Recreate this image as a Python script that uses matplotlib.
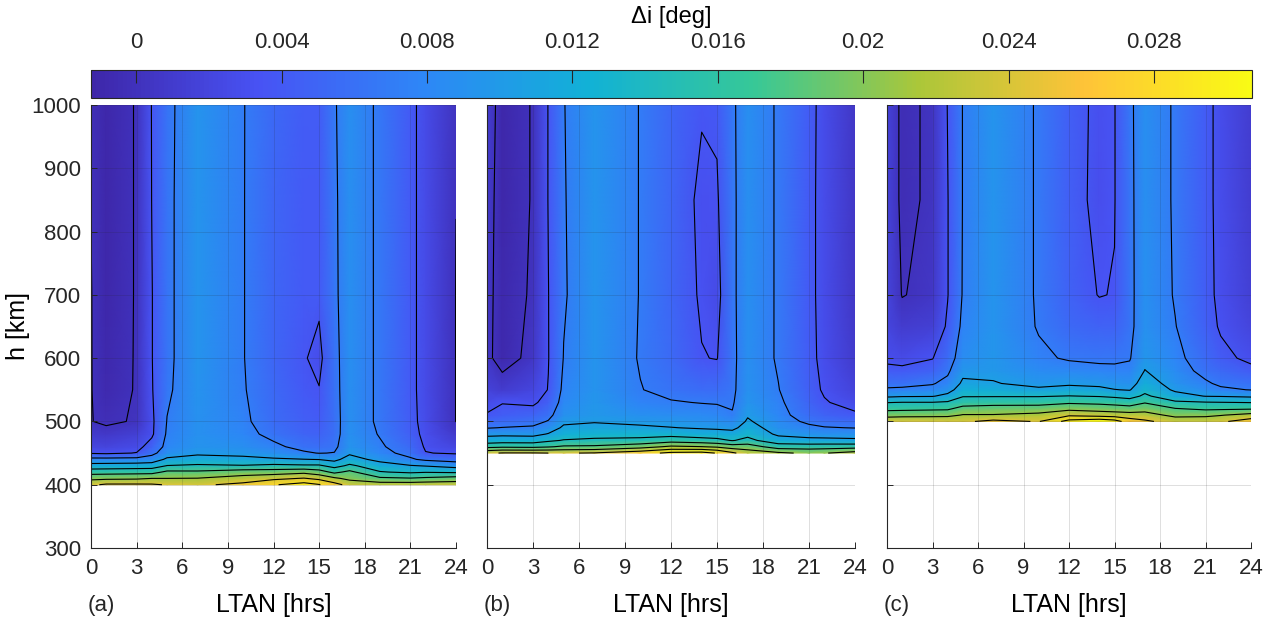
import numpy as np
import matplotlib
matplotlib.use("Agg")
import matplotlib.pyplot as plt
from matplotlib.colors import LinearSegmentedColormap, Normalize

plt.rcParams.update({
    "font.family": ["Liberation Sans", "DejaVu Sans"],
    "font.size": 16,
    "axes.edgecolor": "#262626",
    "xtick.color": "#262626",
    "ytick.color": "#262626",
    "text.color": "#262626",
})

# ---- data -----------------------------------------------------------------
ltan = [0, 1, 3, 4, 5, 7, 10, 12, 14, 15, 16, 17, 19, 21, 22, 24]

# (a) altitudes [km]; di_a has one row per LTAN value, low -> high altitude
h_a = [400, 410, 420, 430, 440, 450, 460, 480, 500, 550, 600, 700, 850, 1000]
di_a = [
    [0.0239, 0.0201, 0.0160, 0.0118, 0.0081, 0.0032, 0.0021, 0.0009, 0.00006, 0.00006, 0.00006, 0.00006, -0.00002, -0.00035],
    [0.0250, 0.0203, 0.0161, 0.0119, 0.0081, 0.0030, 0.0019, 0.0007, -0.00035, -0.0008, -0.0009, -0.00105, -0.00105, -0.00105],
    [0.0250, 0.0205, 0.0163, 0.0121, 0.0082, 0.0036, 0.0026, 0.0014, 0.00018, 0.00012, 0.00012, 0.00012, 0.00012, 0.00012],
    [0.0249, 0.0210, 0.0163, 0.0123, 0.0086, 0.0061, 0.0047, 0.0030, 0.0029, 0.0033, 0.0034, 0.0034, 0.00355, 0.0036],
    [0.0243, 0.0210, 0.0182, 0.0141, 0.0111, 0.0088, 0.0079, 0.0074, 0.0071, 0.0065, 0.0063, 0.0063, 0.0063, 0.0062],
    [0.0239, 0.0211, 0.0181, 0.0145, 0.0119, 0.0099, 0.0093, 0.0091, 0.0091, 0.0092, 0.0093, 0.0093, 0.0093, 0.0093],
    [0.0254, 0.0224, 0.0193, 0.0142, 0.0114, 0.0096, 0.0088, 0.0079, 0.0075, 0.0072, 0.0071, 0.0071, 0.0071, 0.0071],
    [0.0277, 0.0237, 0.0193, 0.0148, 0.0109, 0.0089, 0.0076, 0.0062, 0.0056, 0.0053, 0.0051, 0.0051, 0.0051, 0.0053],
    [0.0295, 0.0247, 0.0201, 0.0145, 0.0106, 0.0074, 0.0061, 0.0049, 0.0044, 0.0039, 0.0037, 0.0040, 0.0041, 0.0042],
    [0.0282, 0.0236, 0.0190, 0.0145, 0.0104, 0.0069, 0.0058, 0.0047, 0.0042, 0.0036, 0.0028, 0.0040, 0.0041, 0.0042],
    [0.0258, 0.0216, 0.0167, 0.0128, 0.0096, 0.0071, 0.0063, 0.0058, 0.0058, 0.0060, 0.0061, 0.0064, 0.0065, 0.0067],
    [0.0233, 0.0201, 0.0183, 0.0146, 0.0119, 0.0100, 0.0093, 0.0089, 0.0088, 0.0088, 0.0088, 0.0088, 0.0088, 0.0088],
    [0.0228, 0.0181, 0.0142, 0.0121, 0.0095, 0.0079, 0.0074, 0.0068, 0.0065, 0.0065, 0.0065, 0.0065, 0.0065, 0.0065],
    [0.0229, 0.0177, 0.0135, 0.0107, 0.0074, 0.0061, 0.0053, 0.0044, 0.0042, 0.0041, 0.0041, 0.0041, 0.0041, 0.0041],
    [0.0231, 0.0181, 0.0138, 0.0103, 0.0064, 0.0036, 0.0032, 0.0029, 0.0027, 0.0026, 0.0026, 0.0026, 0.0026, 0.0026],
    [0.0231, 0.0189, 0.0135, 0.0092, 0.0056, 0.0032, 0.0020, 0.0008, -0.00004, -0.00004, -0.00004, -0.00004, 0.00001, 0.00023],
]

# (b)
h_b = [450, 460, 470, 480, 490, 500, 510, 530, 550, 600, 700, 850, 1000]
di_b = [
    [0.0239, 0.0165, 0.0120, 0.0097, 0.0068, 0.0053, 0.0037, 0.0026, 0.0018, 0.0005, 0.0006, 0.0009, 0.0013],
    [0.0247, 0.0169, 0.0123, 0.0098, 0.0071, 0.0054, 0.0043, 0.0034, 0.0011, -0.0009, -0.0009, -0.00105, -0.00105],
    [0.0247, 0.0167, 0.0123, 0.0096, 0.0074, 0.0060, 0.0049, 0.0030, 0.0020, 0.0006, 0.00023, 0.00012, 0.00012],
    [0.0245, 0.0172, 0.0134, 0.0107, 0.0088, 0.0072, 0.0061, 0.0046, 0.0036, 0.0034, 0.00344, 0.0036, 0.0036],
    [0.0243, 0.0180, 0.0142, 0.0123, 0.0110, 0.0099, 0.0091, 0.0082, 0.0077, 0.0071, 0.0067, 0.0068, 0.0069],
    [0.0247, 0.0181, 0.0146, 0.0128, 0.0113, 0.0103, 0.0098, 0.0095, 0.0093, 0.0093, 0.0093, 0.0093, 0.0093],
    [0.0266, 0.0196, 0.0149, 0.0128, 0.0110, 0.0098, 0.0089, 0.0077, 0.0071, 0.0068, 0.0069, 0.0069, 0.0069],
    [0.0288, 0.0216, 0.0160, 0.0128, 0.0106, 0.0095, 0.0085, 0.0072, 0.0062, 0.0054, 0.0051, 0.0050, 0.0051],
    [0.0292, 0.0211, 0.0154, 0.0121, 0.0102, 0.0091, 0.0083, 0.0069, 0.0056, 0.0036, 0.0032, 0.0030, 0.0037],
    [0.0278, 0.0205, 0.0149, 0.0120, 0.0100, 0.0088, 0.0081, 0.0068, 0.0056, 0.0034, 0.0026, 0.0032, 0.0039],
    [0.0251, 0.0193, 0.0138, 0.0117, 0.0097, 0.0083, 0.0072, 0.0067, 0.0064, 0.0063, 0.0064, 0.0064, 0.0065],
    [0.0228, 0.0193, 0.0149, 0.0131, 0.0119, 0.0109, 0.0102, 0.0093, 0.0090, 0.0088, 0.0088, 0.0088, 0.0088],
    [0.0216, 0.0158, 0.0120, 0.0099, 0.0090, 0.0084, 0.0079, 0.0075, 0.0071, 0.0067, 0.0067, 0.0067, 0.0067],
    [0.0204, 0.0158, 0.0114, 0.0093, 0.0077, 0.0064, 0.0056, 0.0049, 0.0044, 0.0042, 0.0041, 0.0041, 0.0042],
    [0.0208, 0.0159, 0.0114, 0.0091, 0.0072, 0.0058, 0.0048, 0.0037, 0.0032, 0.0028, 0.0027, 0.0027, 0.0027],
    [0.0224, 0.0161, 0.0111, 0.0091, 0.0069, 0.0054, 0.0039, 0.0026, 0.0018, 0.0009, 0.0006, 0.0006, 0.0006],
]

# (c)
h_c = [500, 510, 520, 530, 540, 550, 560, 580, 600, 650, 700, 850, 1000]
di_c = [
    [0.0239, 0.0196, 0.0166, 0.0139, 0.0099, 0.0074, 0.0061, 0.0042, 0.0029, 0.0021, 0.0019, 0.0018, 0.0018],
    [0.0242, 0.0198, 0.0167, 0.0141, 0.0102, 0.0076, 0.0061, 0.0041, 0.0026, 0.0011, -0.0001, -0.0005, -0.0005],
    [0.0240, 0.0200, 0.0169, 0.0141, 0.0103, 0.0079, 0.0068, 0.0047, 0.0034, 0.0014, 0.0006, 0.00035, 0.00035],
    [0.0240, 0.0201, 0.0170, 0.0144, 0.0114, 0.0092, 0.0078, 0.0065, 0.0055, 0.0039, 0.0034, 0.0034, 0.0036],
    [0.0239, 0.0212, 0.0187, 0.0158, 0.0138, 0.0123, 0.0111, 0.0096, 0.0086, 0.0077, 0.0072, 0.0071, 0.0071],
    [0.0254, 0.0212, 0.0190, 0.0162, 0.0138, 0.0120, 0.0107, 0.0098, 0.0095, 0.0093, 0.0093, 0.0093, 0.0093],
    [0.0243, 0.0218, 0.0193, 0.0161, 0.0138, 0.0111, 0.0096, 0.0084, 0.0075, 0.0068, 0.0067, 0.0067, 0.0067],
    [0.0293, 0.0239, 0.0201, 0.0170, 0.0141, 0.0117, 0.0100, 0.0082, 0.0067, 0.0053, 0.0047, 0.0044, 0.0044],
    [0.0306, 0.0231, 0.0196, 0.0167, 0.0138, 0.0113, 0.0097, 0.0078, 0.0064, 0.0047, 0.0034, 0.0029, 0.0030],
    [0.0295, 0.0228, 0.0193, 0.0163, 0.0134, 0.0106, 0.0093, 0.0077, 0.0064, 0.0047, 0.0036, 0.0034, 0.0034],
    [0.0263, 0.0225, 0.0189, 0.0158, 0.0128, 0.0103, 0.0091, 0.0077, 0.0068, 0.0062, 0.0062, 0.0063, 0.0064],
    [0.0251, 0.0224, 0.0196, 0.0173, 0.0146, 0.0131, 0.0121, 0.0106, 0.0096, 0.0090, 0.0089, 0.0088, 0.0088],
    [0.0231, 0.0201, 0.0177, 0.0146, 0.0117, 0.0100, 0.0092, 0.0084, 0.0078, 0.0071, 0.0068, 0.0067, 0.0067],
    [0.0231, 0.0203, 0.0169, 0.0142, 0.0104, 0.0086, 0.0074, 0.0061, 0.0054, 0.0046, 0.0043, 0.0042, 0.0042],
    [0.0239, 0.0208, 0.0170, 0.0141, 0.0103, 0.0075, 0.0065, 0.0053, 0.0042, 0.0032, 0.0029, 0.0028, 0.0028],
    [0.0263, 0.0222, 0.0172, 0.0139, 0.0099, 0.0069, 0.0061, 0.0042, 0.0029, 0.0019, 0.0014, 0.0012, 0.0012],
]

panel_tags = ["(a)", "(b)", "(c)"]
contour_levels = np.arange(0.0, 0.0281, 0.0035)
cbar_ticks = [0, 0.004, 0.008, 0.012, 0.016, 0.02, 0.024, 0.028]
di_min, di_max = -0.00125, 0.0307

# MATLAB parula, sampled at 8 points
parula = LinearSegmentedColormap.from_list("parula", [
    (0.2422, 0.1504, 0.6603), (0.2810, 0.3228, 0.9579),
    (0.1786, 0.5289, 0.9682), (0.0689, 0.6948, 0.8394),
    (0.2161, 0.7843, 0.5923), (0.6720, 0.7793, 0.2227),
    (0.9970, 0.7659, 0.2199), (0.9769, 0.9839, 0.0805),
])
norm = Normalize(di_min, di_max)

W, H = 1278, 623
fig = plt.figure(figsize=(W / 100, H / 100), dpi=100)


def px_axes(x0, x1, y0, y1):
    # axes placed by pixel edges (top-left origin)
    return fig.add_axes([x0 / W, 1 - y1 / H, (x1 - x0) / W, (y1 - y0) / H])


panels = [(h_a, di_a, (91, 456)), (h_b, di_b, (487, 855)), (h_c, di_c, (887, 1251))]
for i, (h, di, (x0, x1)) in enumerate(panels):
    ax = px_axes(x0, x1, 105, 548)
    T, Hg = np.meshgrid(ltan, h)
    Z = np.array(di).T
    mesh = ax.pcolormesh(T, Hg, Z, cmap=parula, norm=norm,
                         shading="gouraud", zorder=1)
    ax.contour(T, Hg, Z, levels=contour_levels, colors="k",
               linewidths=0.8, zorder=2)

    ax.set_xlim(0, 24)
    ax.set_ylim(300, 1000)
    ax.set_xticks(range(0, 25, 3))
    ax.set_yticks(range(300, 1001, 100))
    ax.set_axisbelow(False)
    ax.grid(True, color="#262626", alpha=0.15, lw=0.7)
    for s in ("top", "right"):
        ax.spines[s].set_visible(False)
    ax.tick_params(direction="in", length=4, width=0.7, labelsize=16, pad=7)
    if i > 0:
        ax.tick_params(labelleft=False)
    else:
        ax.set_ylabel("h [km]", fontsize=18, labelpad=1)
    ax.set_xlabel("LTAN [hrs]", fontsize=18, labelpad=10)
    fig.text((x0 - 3) / W, 1 - 605 / H, panel_tags[i], fontsize=16,
             ha="left", va="center")

cax = px_axes(91, 1252, 70, 98)
cb = fig.colorbar(mesh, cax=cax, orientation="horizontal", ticks=cbar_ticks)
cax.xaxis.set_ticks_position("top")
cax.xaxis.set_label_position("top")
cax.set_xticklabels([f"{t:g}" for t in cbar_ticks])
cax.tick_params(direction="in", length=9, width=0.8, labelsize=16, pad=12)
cb.outline.set_edgecolor("#262626")
cb.outline.set_linewidth(0.8)
cb.set_label("\u0394i [deg]", fontsize=17, labelpad=7)

fig.savefig("out.png", dpi=100)
